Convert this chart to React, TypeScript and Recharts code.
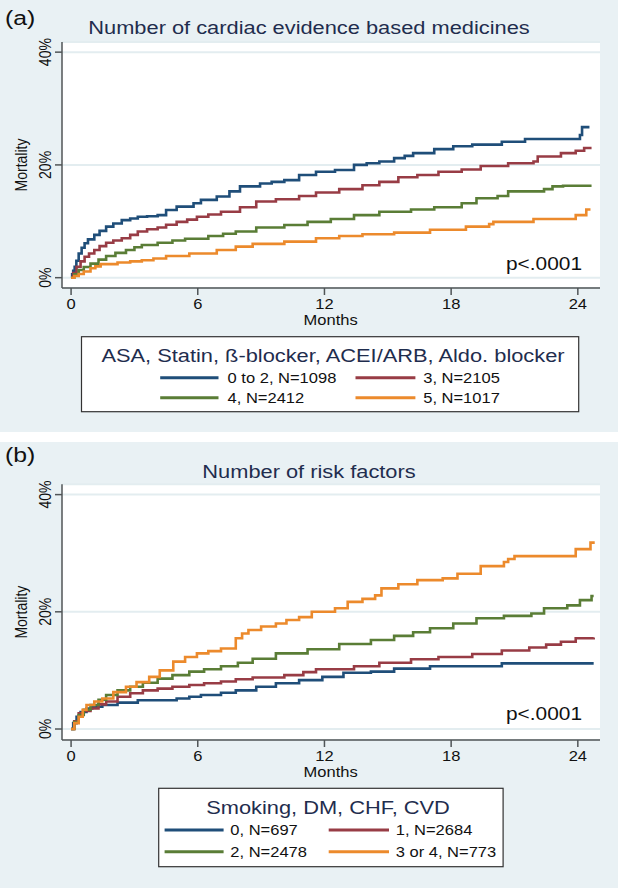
import React from 'react';
import { LineChart, Line, XAxis, YAxis, CartesianGrid } from 'recharts';

const FONT = '"Liberation Sans", Arial, Helvetica, sans-serif';
const SX = 1.18;
const BG = '#e9f1f4';
const GRID = '#e3edf0';
const TITLE_C = '#1f2d4e';
const AXIS_C = '#505557';

const monthTicks = [0, 6, 12, 18, 24];
const pctTicks = [0, 20, 40];
const seriesColors = ['#1f4e79', '#983c45', '#5a7d36', '#ec8a2c'];

const medTitle = 'Number of cardiac evidence based medicines';
const medLegendTitle = 'ASA, Statin, ß-blocker, ACEI/ARB, Aldo. blocker';
const medNames = ['0 to 2, N=1098', '3, N=2105', '4, N=2412', '5, N=1017'];

const riskTitle = 'Number of risk factors';
const riskLegendTitle = 'Smoking, DM, CHF, CVD';
const riskNames = ['0, N=697', '1, N=2684', '2, N=2478', '3 or 4, N=773'];

// [month, mortality %]
const med0to2 = [[0,0],[0.05,0.6],[0.1,1.2],[0.17,1.95],[0.25,3.0],[0.36,4.3],[0.5,5.3],[0.64,6.1],[0.8,6.8],[1.1,7.6],[1.35,8.3],[1.66,9.05],[2.0,9.6],[2.4,10.2],[2.8,10.5],[3.16,10.8],[3.6,10.9],[4.1,11.1],[4.5,12.0],[5.0,12.6],[5.8,13.2],[6.15,13.8],[6.9,14.4],[7.5,15.3],[8.0,16.2],[8.95,16.7],[9.5,17.0],[10.1,17.3],[10.8,18.2],[11.6,18.8],[12.5,19.1],[13.4,20.0],[14.0,20.3],[14.6,20.6],[15.3,21.2],[15.8,21.6],[16.2,22.1],[17.2,22.8],[18.1,23.3],[19.0,23.6],[20.4,24.1],[21.5,24.6],[24.1,25.3],[24.2,26.7],[24.55,26.7]];
const med3 = [[0,0],[0.1,0.8],[0.26,1.95],[0.45,2.9],[0.64,3.7],[0.85,4.3],[1.1,4.9],[1.35,5.6],[1.66,6.2],[2.0,6.6],[2.4,7.0],[2.8,7.6],[3.16,8.2],[3.6,8.6],[4.1,8.9],[4.5,9.4],[5.0,9.9],[5.5,10.3],[5.96,10.8],[6.5,11.2],[7.1,11.7],[8.0,12.5],[8.77,13.5],[9.7,13.9],[10.8,14.5],[11.6,15.1],[12.7,15.7],[13.8,16.4],[14.6,17.0],[15.5,17.8],[16.4,18.2],[17.4,18.8],[18.5,19.2],[19.4,19.8],[20.7,20.3],[21.9,20.6],[22.1,21.5],[23.2,22.1],[23.9,22.5],[24.3,23.0],[24.65,23.0]];
const med4 = [[0,0],[0.15,0.6],[0.36,1.36],[0.6,1.9],[0.92,2.5],[1.3,3.2],[1.66,3.85],[2.1,4.4],[2.6,4.9],[3.0,5.4],[3.35,5.8],[4.1,6.2],[4.8,6.6],[5.4,6.9],[6.5,7.4],[7.2,7.8],[7.8,8.2],[8.77,8.9],[10.1,9.35],[11.2,9.9],[12.3,10.4],[13.4,11.1],[14.6,11.7],[16.1,12.1],[17.2,12.5],[18.5,13.2],[19.2,14.1],[20.2,14.5],[20.7,15.3],[22.4,15.7],[22.8,16.2],[23.3,16.3],[24.65,16.3]];
const med5 = [[0,0],[0.15,0.3],[0.36,0.65],[0.6,1.1],[0.92,1.66],[1.15,2.0],[1.4,2.4],[2.2,2.7],[2.8,2.9],[3.35,3.1],[3.9,3.4],[4.5,3.85],[5.6,4.3],[6.9,4.9],[7.8,5.5],[8.6,6.0],[10.1,6.4],[11.6,7.0],[12.7,7.4],[13.8,7.7],[15.3,8.0],[17.0,8.5],[18.7,9.05],[19.8,9.5],[20.0,9.9],[21.9,10.4],[23.9,11.1],[24.4,12.1],[24.6,12.1]];

const risk0 = [[0,0],[0.1,1.0],[0.26,2.1],[0.45,2.9],[0.73,3.5],[1.0,3.8],[1.48,4.1],[2.2,4.5],[3.16,4.9],[5.0,5.2],[5.6,5.5],[6.15,5.8],[7.1,6.2],[7.8,6.6],[8.77,7.2],[9.7,7.8],[10.8,8.35],[11.9,8.9],[12.9,9.6],[14.2,9.8],[15.3,10.3],[17.0,10.7],[20.4,11.2],[24.75,11.2]];
const risk1 = [[0,0],[0.15,1.3],[0.36,2.7],[0.6,3.1],[0.92,3.5],[1.3,4.2],[1.66,4.7],[2.2,5.5],[2.8,6.1],[3.4,6.6],[4.1,6.9],[4.8,7.2],[5.6,7.5],[6.3,7.8],[7.1,8.1],[7.8,8.5],[8.6,8.8],[10.1,9.2],[11.0,9.7],[11.6,10.2],[13.4,10.7],[14.6,11.3],[16.1,11.9],[17.4,12.3],[19.0,12.8],[20.4,13.4],[21.7,13.9],[22.5,14.4],[23.2,14.9],[23.9,15.5],[24.75,15.6]];
const risk2 = [[0,0],[0.15,1.2],[0.36,2.4],[0.6,3.3],[0.92,4.1],[1.3,5.0],[1.66,5.8],[2.2,6.6],[2.8,7.2],[3.4,7.9],[4.1,8.6],[4.8,9.2],[5.6,9.8],[6.3,10.2],[7.1,10.7],[7.9,11.3],[8.6,12.0],[9.7,12.9],[11.2,13.6],[12.7,14.5],[14.2,15.2],[15.3,15.9],[16.2,16.5],[17.0,17.2],[18.1,18.0],[19.2,18.9],[20.5,19.3],[21.8,19.7],[22.4,20.6],[23.5,21.1],[24.1,22.0],[24.65,22.7],[24.75,22.7]];
const risk3or4 = [[0,0],[0.15,1.0],[0.36,2.1],[0.55,3.3],[0.73,4.1],[1.1,4.7],[1.48,5.2],[2.0,6.3],[2.6,7.2],[3.1,8.0],[3.7,8.9],[4.2,10.0],[4.84,11.5],[5.4,12.3],[5.96,12.9],[6.5,13.3],[7.1,13.75],[7.8,15.5],[8.1,16.3],[8.4,16.9],[9.0,17.5],[9.7,18.0],[10.2,18.6],[10.8,19.1],[11.4,20.0],[12.5,20.6],[13.1,21.7],[13.8,22.2],[14.4,22.8],[14.7,24.0],[15.5,24.7],[16.4,25.4],[17.6,25.7],[18.3,26.5],[19.4,27.8],[20.5,28.5],[20.7,29.0],[21.0,29.5],[23.9,30.7],[24.6,31.8],[24.8,31.8]];

const toPts = (a: number[][]) => a.map(([x, y]) => ({ x, y }));

type PanelProps = {
  top: number;
  height: number;
  plotTop: number;
  plotBottom: number;
  yDomain: [number, number];
  letter: string;
  letterBaseline: number;
  title: string;
  titleBaseline: number;
  pBaseline: number;
  series: number[][][];
  names: string[];
  legendTitle: string;
  box: { x: number; y: number; w: number; h: number };
  legTitleX: number;
  legTitleBaseline: number;
  rows: number[];
  lineX: number[][];
  textX: number[];
};

const ST = (x: number, y: number, extra = '') => `translate(${x},${y}) scale(${SX},1)${extra}`;

function Panel(p: PanelProps) {
  const W = 618;
  const xAxisH = 30;
  const XTick = (props: any) => {
    const { x, payload } = props;
    return (
      <text transform={ST(x, p.plotBottom + 20.5)} textAnchor="middle" fontFamily={FONT} fontSize={14} fill="#111">
        {payload.value}
      </text>
    );
  };
  const YTick = (props: any) => {
    const { y, payload } = props;
    return (
      <text transform={ST(51, y, ' rotate(-90)')} textAnchor="middle" fontFamily={FONT} fontSize={14} fill="#111">
        {payload.value + '%'}
      </text>
    );
  };
  return (
    <div style={{ position: 'absolute', left: 0, top: p.top, width: W, height: p.height, background: BG }}>
      <LineChart
        width={W}
        height={p.height}
        margin={{ top: p.plotTop, right: 18, bottom: p.height - p.plotBottom - xAxisH, left: 0 }}
      >
        <CartesianGrid vertical={false} stroke={GRID} strokeWidth={2} fill="#ffffff" fillOpacity={1} />
        <XAxis
          dataKey="x"
          type="number"
          domain={[-0.43, 25.05]}
          ticks={monthTicks}
          interval={0}
          allowDataOverflow
          height={xAxisH}
          tickSize={7}
          axisLine={{ stroke: AXIS_C, strokeWidth: 1.5 }}
          tickLine={{ stroke: AXIS_C, strokeWidth: 1.5 }}
          tick={<XTick />}
        />
        <YAxis
          type="number"
          domain={p.yDomain}
          ticks={pctTicks}
          interval={0}
          allowDataOverflow
          width={62}
          tickSize={7}
          axisLine={{ stroke: AXIS_C, strokeWidth: 1.5 }}
          tickLine={{ stroke: AXIS_C, strokeWidth: 1.5 }}
          tick={<YTick />}
        />
        {p.series.map((s, i) => (
          <Line
            key={i}
            data={toPts(s)}
            dataKey="y"
            type="stepAfter"
            stroke={seriesColors[i]}
            strokeWidth={2.6}
            dot={false}
            activeDot={false}
            isAnimationActive={false}
          />
        ))}
      </LineChart>
      <svg width={W} height={p.height} style={{ position: 'absolute', left: 0, top: 0, pointerEvents: 'none' }}>
        <text transform={ST(5, p.letterBaseline)} fontFamily={FONT} fontSize={21} fill="#111">{p.letter}</text>
        <text transform={ST(309, p.titleBaseline)} textAnchor="middle" fontFamily={FONT} fontSize={18.5} fill={TITLE_C}>{p.title}</text>
        <text transform={ST(26.5, (p.plotTop + p.plotBottom) / 2, ' rotate(-90)')} textAnchor="middle" fontFamily={FONT} fontSize={14} fill="#111">Mortality</text>
        <text transform={ST(330.6, p.plotBottom + 36.5)} textAnchor="middle" fontFamily={FONT} fontSize={14} fill="#111">Months</text>
        <text transform={ST(506, p.pBaseline)} fontFamily={FONT} fontSize={17.7} fill="#111">p&lt;.0001</text>
        <rect x={p.box.x} y={p.box.y} width={p.box.w} height={p.box.h} fill="#ffffff" stroke="#333" strokeWidth={1.2} />
        <text transform={ST(p.legTitleX, p.legTitleBaseline)} textAnchor="middle" fontFamily={FONT} fontSize={18.5} fill={TITLE_C}>{p.legendTitle}</text>
        {p.names.map((n, i) => {
          const r = Math.floor(i / 2);
          const c = i % 2;
          const cy = p.rows[r];
          return (
            <g key={i}>
              <line x1={p.lineX[c][0]} x2={p.lineX[c][1]} y1={cy} y2={cy} stroke={seriesColors[i]} strokeWidth={3} />
              <text transform={ST(p.textX[c], cy + 5)} fontFamily={FONT} fontSize={14} fill="#111">{n}</text>
            </g>
          );
        })}
      </svg>
    </div>
  );
}

export default function App() {
  return (
    <div style={{ position: 'absolute', left: 0, top: 0, width: 618, height: 888, background: '#ffffff' }}>
      <Panel
        top={0}
        height={432}
        plotTop={42}
        plotBottom={288}
        yDomain={[-1.83, 41.8]}
        letter="(a)"
        letterBaseline={25}
        title={medTitle}
        titleBaseline={34}
        pBaseline={269.5}
        series={[med0to2, med3, med4, med5]}
        names={medNames}
        legendTitle={medLegendTitle}
        box={{ x: 81.5, y: 336.7, w: 497.2, h: 75 }}
        legTitleX={333}
        legTitleBaseline={361.7}
        rows={[377.7, 397.7]}
        lineX={[[160.2, 218.5], [355.5, 415.4]]}
        textX={[227.6, 423.2]}
      />
      <Panel
        top={442}
        height={446}
        plotTop={42.3}
        plotBottom={298}
        yDomain={[-1.875, 41.76]}
        letter="(b)"
        letterBaseline={20}
        title={riskTitle}
        titleBaseline={35.7}
        pBaseline={277.5}
        series={[risk0, risk1, risk2, risk3or4]}
        names={riskNames}
        legendTitle={riskLegendTitle}
        box={{ x: 158.7, y: 346.3, w: 344.4, h: 78.4 }}
        legTitleX={328}
        legTitleBaseline={372}
        rows={[388, 409.7]}
        lineX={[[164.6, 223.6], [328.7, 389]]}
        textX={[230.3, 395.7]}
      />
    </div>
  );
}
